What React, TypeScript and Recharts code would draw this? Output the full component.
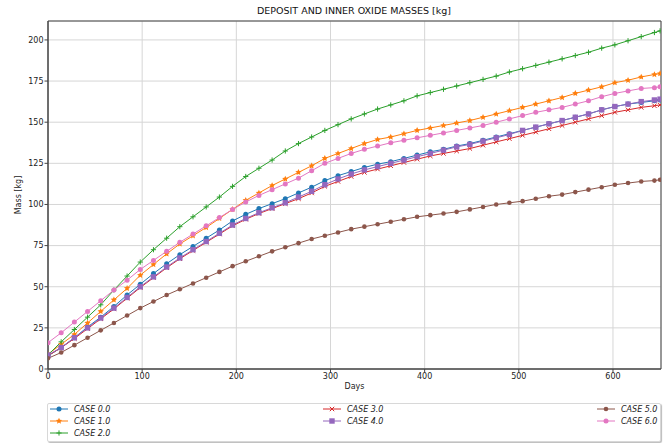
import React from 'react';
import {
  LineChart,
  Line,
  XAxis,
  YAxis,
  CartesianGrid,
  ReferenceArea,
} from 'recharts';

const days = [
  0, 14, 28, 42, 56, 70, 84, 98, 112, 126, 140, 154, 168, 182, 196, 210,
  224, 238, 252, 266, 280, 294, 308, 322, 336, 350, 364, 378, 392, 406, 420, 434,
  448, 462, 476, 490, 504, 518, 532, 546, 560, 574, 588, 602, 616, 630, 644, 650,
];

const case0 = [
  8, 13, 19, 25.5, 31.5, 38, 45, 51.5, 58, 64, 69.5, 74.5, 79.5, 84.5, 90, 94,
  97.5, 100.5, 103.5, 107, 110.5, 114.5, 117.5, 120, 122.5, 124.5, 126, 128, 130, 132, 133.5, 135.5,
  137, 139, 141, 143, 145, 147, 149, 151, 153, 155, 157.5, 159.5, 161, 162, 163, 163.5,
];
const case1 = [
  9, 15, 21, 28, 35, 42, 49, 57, 63.5, 70, 76, 81, 86, 91.5, 97, 102.5,
  107, 111.5, 115.5, 119.5, 123.5, 128, 131, 134, 137, 139.5, 141, 143, 145, 146.5, 148, 149.5,
  151, 153, 155, 157, 159, 161, 163, 165, 167.5, 169.5, 171.5, 174, 175.5, 177.5, 179, 179.5,
];
const case2 = [
  8.5, 16.5, 24, 31.5, 39, 48, 56.5, 65, 72.5, 79.5, 86.5, 92.5, 98.5, 104.5, 111, 117,
  122, 127, 132.5, 137, 141, 145, 148.5, 152, 155, 158, 160.5, 163, 166, 168, 170, 172,
  174, 176, 178, 180.5, 182.5, 184.5, 186.5, 188.5, 190.5, 192.5, 195, 197, 199.5, 202, 204.5, 205.5,
];
const case3 = [
  8, 13, 18.5, 24.5, 30.5, 36.5, 43, 49.5, 55.5, 61.5, 67, 72, 77, 82, 87, 91,
  94.5, 97.5, 100.5, 103.5, 107, 111, 114, 117, 119.5, 121.5, 123.5, 125.5, 127.5, 129.5, 131, 132.5,
  134, 136, 138, 140, 142, 144, 146, 148, 150, 152, 154, 156, 157.5, 159, 160, 160.5,
];
const case4 = [
  8.5, 13, 19, 25, 31, 37, 43.5, 50, 56, 62, 67.5, 72.5, 77.5, 82.5, 87.5, 91.5,
  95, 98, 101, 104.5, 108, 112, 115.5, 118.5, 121, 123, 125, 127, 129, 131, 133, 135,
  136.5, 138.5, 140.5, 142.5, 145, 147, 149, 151, 153, 155, 157.5, 159.5, 161, 162.5, 163.5, 164,
];
const case5 = [
  6.5, 10, 14.5, 19, 23.5, 28, 32.5, 37, 41, 45, 48.5, 52, 55.5, 59, 62.5, 65.5,
  68.5, 71.5, 74, 76.5, 79, 81, 83, 85, 86.5, 88, 89.5, 91, 92.5, 93.5, 94.5, 95.5,
  97, 98.5, 100, 101, 102, 103.5, 105, 106, 107.5, 109, 110.5, 112, 113, 114, 114.5, 115,
];
const case6 = [
  16, 22, 28.5, 35, 41.5, 48, 54, 60.5, 66, 71.5, 77, 82, 87, 92, 97, 101.5,
  105.5, 109, 112.5, 116, 120.5, 125, 128, 131, 133.5, 135.5, 137.5, 139, 140.5, 142, 143.5, 145,
  146.5, 148, 150, 152, 154, 156, 157.5, 159, 161, 163, 165.5, 167.5, 169, 170.5, 171, 171.5,
];

const xTicks = [0, 100, 200, 300, 400, 500, 600];
const yTicks = [0, 25, 50, 75, 100, 125, 150, 175, 200];

const series = [
  { key: 'c0', name: 'CASE 0.0', color: '#1f77b4', shape: 'circle', values: case0 },
  { key: 'c1', name: 'CASE 1.0', color: '#ff7f0e', shape: 'star', values: case1 },
  { key: 'c2', name: 'CASE 2.0', color: '#2ca02c', shape: 'plus', values: case2 },
  { key: 'c3', name: 'CASE 3.0', color: '#d62728', shape: 'x', values: case3 },
  { key: 'c4', name: 'CASE 4.0', color: '#9467bd', shape: 'square', values: case4 },
  { key: 'c5', name: 'CASE 5.0', color: '#8c564b', shape: 'hex', values: case5 },
  { key: 'c6', name: 'CASE 6.0', color: '#e377c2', shape: 'circle', values: case6 },
];

const data = days.map((d, i) => {
  const row: any = { day: d };
  series.forEach((s) => { row[s.key] = s.values[i]; });
  return row;
});

const FONT = '"DejaVu Sans", sans-serif';

const starPoints = (x: number, y: number, ro: number, ri: number) => {
  const pts: string[] = [];
  for (let k = 0; k < 10; k++) {
    const r = k % 2 === 0 ? ro : ri;
    const a = -Math.PI / 2 + (k * Math.PI) / 5;
    pts.push(`${x + r * Math.cos(a)},${y + r * Math.sin(a)}`);
  }
  return pts.join(' ');
};

const Marker = ({ shape, x, y, color }: { shape: string; x: number; y: number; color: string }) => {
  switch (shape) {
    case 'star':
      return <polygon points={starPoints(x, y, 3.3, 1.6)} fill={color} />;
    case 'plus':
      return <path d={`M${x - 2.6},${y}h5.2M${x},${y - 2.6}v5.2`} stroke={color} strokeWidth={1} />;
    case 'x':
      return <path d={`M${x - 2.2},${y - 2.2}l4.4,4.4M${x - 2.2},${y + 2.2}l4.4,-4.4`} stroke={color} strokeWidth={1} />;
    case 'square':
      return <rect x={x - 2.7} y={y - 2.7} width={5.4} height={5.4} fill={color} />;
    case 'hex':
      return <circle cx={x} cy={y} r={2.3} fill={color} />;
    default:
      return <circle cx={x} cy={y} r={2.5} fill={color} />;
  }
};

const legendPos = [
  { x: 50, y: 409 },
  { x: 50, y: 421 },
  { x: 50, y: 433 },
  { x: 323, y: 409 },
  { x: 323, y: 421 },
  { x: 597, y: 409 },
  { x: 597, y: 421 },
];

const App = () => {
  return (
    <div style={{ position: 'absolute', left: 0, top: 0, width: 672, height: 443, background: '#fff', fontFamily: FONT }}>
      <div style={{ position: 'absolute', left: 47, width: 614, top: 5, textAlign: 'center', fontSize: 9.5, color: '#111' }}>
        DEPOSIT AND INNER OXIDE MASSES [kg]
      </div>
      <LineChart
        width={672}
        height={443}
        data={data}
        margin={{ top: 21, right: 11, bottom: 44, left: 8 }}
      >
        <CartesianGrid stroke="#d6d6d6" strokeWidth={1} vertical horizontal />
        <XAxis
          dataKey="day"
          type="number"
          domain={[0, 651]}
          ticks={xTicks}
          allowDataOverflow
          height={30}
          tickSize={3.5}
          tickMargin={1}
          stroke="#444"
          tick={{ fontSize: 8, fill: '#222', fontFamily: FONT }}
          label={{ value: 'Days', position: 'insideBottom', offset: 10, style: { fontSize: 8, fill: '#222', fontFamily: FONT } }}
        />
        <YAxis
          type="number"
          domain={[0, 211.5]}
          ticks={yTicks}
          allowDataOverflow
          width={40}
          tickSize={3.5}
          tickMargin={1}
          stroke="#444"
          tick={{ fontSize: 8, fill: '#222', fontFamily: FONT }}
          label={{ value: 'Mass [kg]', angle: -90, position: 'insideLeft', offset: 10, style: { fontSize: 8, fill: '#222', fontFamily: FONT, textAnchor: 'middle' } }}
        />
        <ReferenceArea x1={0} x2={651} y1={0} y2={211.5} fill="none" stroke="#444" strokeWidth={1} ifOverflow="extendDomain" />
        {series.map((s) => (
          <Line
            key={s.key}
            dataKey={s.key}
            name={s.name}
            stroke={s.color}
            strokeWidth={1}
            type="linear"
            isAnimationActive={false}
            dot={(p: any) => (
              <Marker key={`${s.key}-${p.index}`} shape={s.shape} x={p.cx} y={p.cy} color={s.color} />
            )}
            activeDot={false}
          />
        ))}
      </LineChart>
      <div
        style={{
          position: 'absolute',
          left: 47,
          top: 403,
          width: 612,
          height: 37,
          border: '1px solid #d8d8d8',
          borderRadius: 2,
          boxShadow: '1px 1px 1px #bbb',
          background: '#fff',
        }}
      />
      {series.map((s, i) => (
        <div key={s.key} style={{ position: 'absolute', left: legendPos[i].x, top: legendPos[i].y - 6, height: 12, display: 'flex', alignItems: 'center' }}>
          <svg width={18} height={12} style={{ display: 'block' }}>
            <line x1={0} y1={6} x2={18} y2={6} stroke={s.color} strokeWidth={1} />
            <Marker shape={s.shape} x={9} y={6} color={s.color} />
          </svg>
          <span style={{ marginLeft: 6, fontSize: 8, fontStyle: 'italic', color: '#222', whiteSpace: 'nowrap' }}>{s.name}</span>
        </div>
      ))}
    </div>
  );
};

export default App;
